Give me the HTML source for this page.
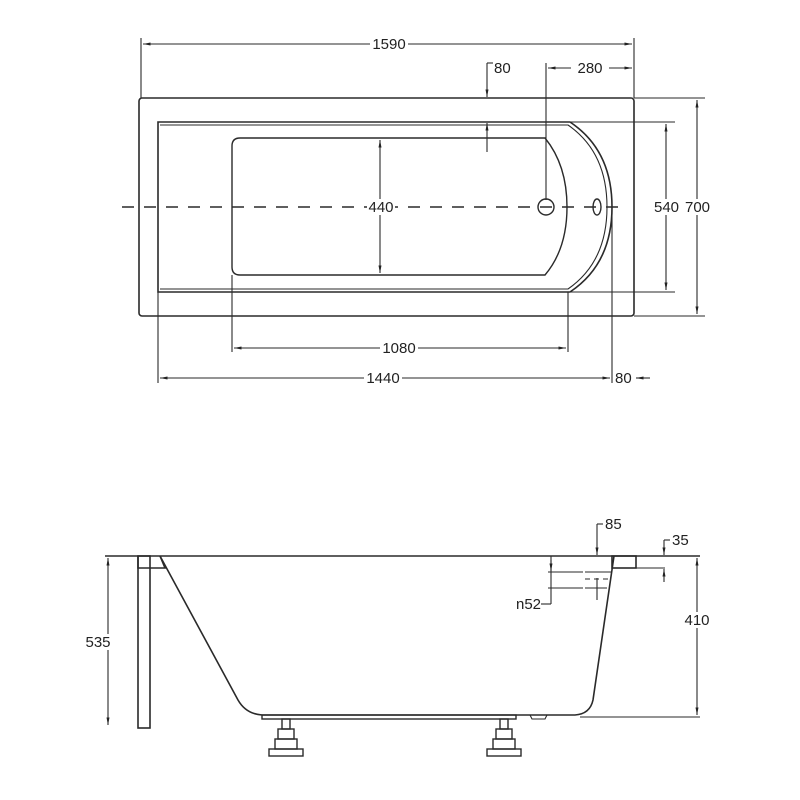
<!DOCTYPE html>
<html><head><meta charset="utf-8"><style>
html,body{margin:0;padding:0;background:#fff;}
svg{display:block}
text{font-family:"Liberation Sans",sans-serif;font-size:15px;fill:#222}
</style></head><body>
<svg width="800" height="800" viewBox="0 0 800 800" xmlns="http://www.w3.org/2000/svg">
<defs>
<marker id="a" viewBox="0 0 10 10" refX="10" refY="5" markerWidth="7" markerHeight="7" orient="auto-start-reverse"><path d="M0,3 L10,5 L0,7z" fill="#222"/></marker>
</defs>
<g stroke="#2a2a2a" fill="none" stroke-width="1.1">
<line x1="141" y1="38" x2="141" y2="98"/>
<line x1="634" y1="38" x2="634" y2="98"/>
<line x1="143" y1="44" x2="632" y2="44" marker-start="url(#a)" marker-end="url(#a)"/>
<rect x="139" y="98" width="495" height="218" rx="3" stroke-width="1.6"/>
<path d="M158 122 L570 122 Q612 150 612 207 Q612 264 570 292 L158 292 Z" stroke-width="1.6"/>
<path d="M160 125 L568 125 Q607 152 607 207 Q607 262 568 289 L160 289" />
<path d="M240 138 L545 138 Q567 165 567 207 Q567 249 545 275 L240 275 Q232 275 232 267 L232 146 Q232 138 240 138 Z" stroke-width="1.4"/>
<line x1="122" y1="207" x2="628" y2="207" stroke-dasharray="12,10" stroke-width="1.4"/>
<circle cx="546" cy="207" r="8" stroke-width="1.4"/>
<ellipse cx="597" cy="207" rx="4" ry="8" stroke-width="1.4"/>
<line x1="380" y1="140" x2="380" y2="273" marker-start="url(#a)" marker-end="url(#a)"/>
<line x1="487" y1="63" x2="487" y2="97" marker-end="url(#a)"/>
<line x1="487" y1="63" x2="493" y2="63"/>
<line x1="487" y1="152" x2="487" y2="123" marker-end="url(#a)"/>
<line x1="546" y1="63" x2="546" y2="200"/>
<line x1="548" y1="68" x2="632" y2="68" marker-start="url(#a)" marker-end="url(#a)"/>
<line x1="570" y1="122" x2="675" y2="122"/>
<line x1="570" y1="292" x2="675" y2="292"/>
<line x1="666" y1="124" x2="666" y2="290" marker-start="url(#a)" marker-end="url(#a)"/>
<line x1="634" y1="98" x2="705" y2="98"/>
<line x1="634" y1="316" x2="705" y2="316"/>
<line x1="697" y1="100" x2="697" y2="314" marker-start="url(#a)" marker-end="url(#a)"/>
<line x1="232" y1="275" x2="232" y2="352"/>
<line x1="568" y1="292" x2="568" y2="352"/>
<line x1="234" y1="348" x2="566" y2="348" marker-start="url(#a)" marker-end="url(#a)"/>
<line x1="158" y1="292" x2="158" y2="383"/>
<line x1="612" y1="210" x2="612" y2="383"/>
<line x1="160" y1="378" x2="610" y2="378" marker-start="url(#a)" marker-end="url(#a)"/>
<line x1="650" y1="378" x2="636" y2="378" marker-end="url(#a)"/>
<line x1="105" y1="556" x2="700" y2="556" stroke-width="1.6"/>
<rect x="138" y="556" width="12" height="172" stroke-width="1.6"/>
<path d="M138 556 L138 568 L165 568 L160 556" stroke-width="1.6"/>
<path d="M160 556 L238 700 Q246 714 262 715 L575 715 Q590 714 593 700 L614 556" stroke-width="1.6"/>
<rect x="612" y="556" width="24" height="12" stroke-width="1.6"/>
<line x1="636" y1="568" x2="665" y2="568"/>
<rect x="262" y="715" width="254" height="4" stroke-width="1.4"/>
<path d="M530 715 L532 719 L545 719 L547 715"/>
<g stroke-width="1.4">
<rect x="282" y="719" width="8" height="10"/><rect x="278" y="729" width="16" height="10"/><rect x="275" y="739" width="22" height="10"/><rect x="269" y="749" width="34" height="7"/>
<rect x="500" y="719" width="8" height="10"/><rect x="496" y="729" width="16" height="10"/><rect x="493" y="739" width="22" height="10"/><rect x="487" y="749" width="34" height="7"/>
</g>
<line x1="108" y1="558" x2="108" y2="725" marker-start="url(#a)" marker-end="url(#a)"/>
<line x1="580" y1="717" x2="700" y2="717"/>
<line x1="697" y1="558" x2="697" y2="715" marker-start="url(#a)" marker-end="url(#a)"/>
<line x1="597" y1="524" x2="597" y2="555" marker-end="url(#a)"/>
<line x1="597" y1="524" x2="603" y2="524"/>
<line x1="664" y1="540" x2="664" y2="555" marker-end="url(#a)"/>
<line x1="664" y1="540" x2="670" y2="540"/>
<line x1="664" y1="582" x2="664" y2="569" marker-end="url(#a)"/>
<line x1="551" y1="556" x2="551" y2="604"/>
<line x1="541" y1="604" x2="551" y2="604"/>
<line x1="551" y1="560" x2="551" y2="571" marker-end="url(#a)"/>
<line x1="548" y1="572" x2="583" y2="572"/>
<line x1="585" y1="572" x2="612" y2="572"/>
<line x1="548" y1="588" x2="583" y2="588"/>
<line x1="585" y1="588" x2="607" y2="588"/>
<line x1="585" y1="579" x2="610" y2="579" stroke-dasharray="5,4"/>
<line x1="597" y1="578" x2="597" y2="600"/>
</g>
<g>
<rect x="370" y="36" width="38" height="16" fill="#fff"/>
<text x="389" y="49" text-anchor="middle">1590</text>
<text x="494" y="73">80</text>
<rect x="571" y="60" width="38" height="16" fill="#fff"/>
<text x="590" y="73" text-anchor="middle">280</text>
<rect x="367" y="199" width="28" height="16" fill="#fff"/>
<text x="381" y="212" text-anchor="middle">440</text>
<rect x="651" y="199" width="60" height="16" fill="#fff"/>
<text x="654" y="212">540</text>
<text x="685" y="212">700</text>
<rect x="380" y="340" width="38" height="16" fill="#fff"/>
<text x="399" y="353" text-anchor="middle">1080</text>
<rect x="364" y="370" width="38" height="16" fill="#fff"/>
<text x="383" y="383" text-anchor="middle">1440</text>
<text x="615" y="383">80</text>
<text x="605" y="529">85</text>
<text x="672" y="545">35</text>
<text x="516" y="609">n52</text>
<rect x="84" y="634" width="32" height="16" fill="#fff"/>
<text x="98" y="647" text-anchor="middle">535</text>
<rect x="683" y="612" width="30" height="16" fill="#fff"/>
<text x="697" y="625" text-anchor="middle">410</text>
</g>
</svg>
</body></html>
